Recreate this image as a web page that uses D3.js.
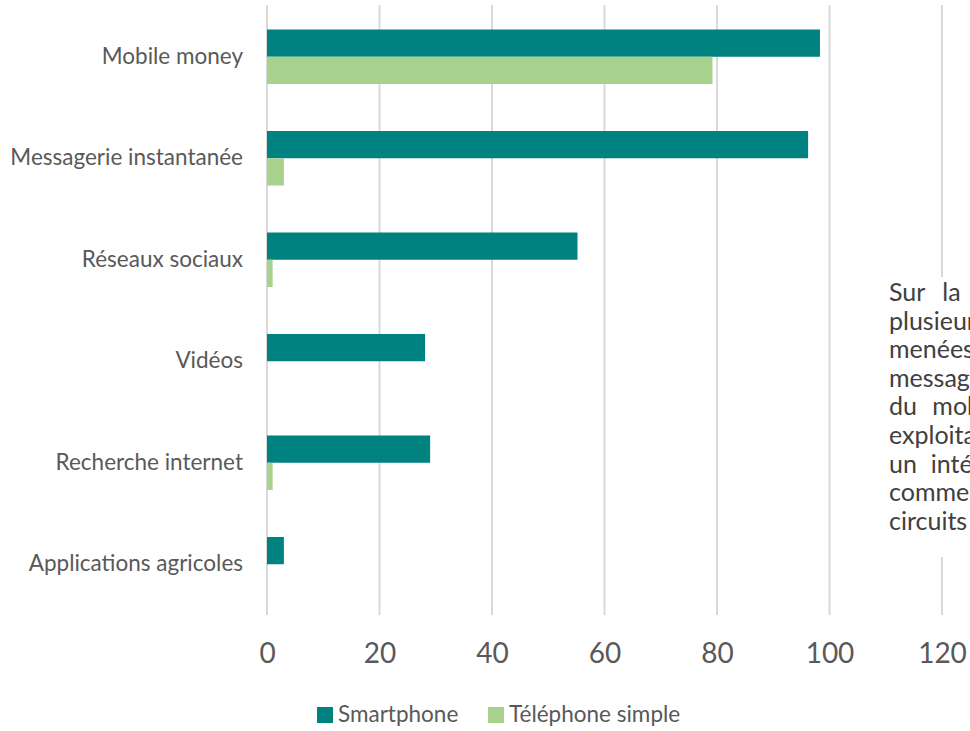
<!DOCTYPE html>
<html>
<head>
<meta charset="utf-8">
<script src="https://cdn.jsdelivr.net/npm/d3@7"></script>
<style>
  html, body { margin: 0; padding: 0; background: #fff; }
  svg { display: block; font-family: Lato, "Open Sans", sans-serif; }
</style>
</head>
<body>
<div id="chart"></div>
<script>
const categories = ['Mobile money', 'Messagerie instantanée', 'Réseaux sociaux', 'Vidéos', 'Recherche internet', 'Applications agricoles'];
const seriesNames = ['Smartphone', 'Téléphone simple'];
const smartphone = [98.3, 96.2, 55.2, 28.1, 29, 3];
const telephoneSimple = [79.2, 3, 1, 0, 1, 0];
const xTicks = [0, 20, 40, 60, 80, 100, 120];
// text of the neighbouring paragraph that overlaps the chart on the right
const sideText = ['Sur la', 'plusieurs', 'menées', 'messagerie', 'du mobile', 'exploitants', 'un intérêt', 'commerce', 'circuits'];
const sideSpacing = [11, 0, 0, 0, 9, 0, 7.5, 0, 0];

const width = 970;
const height = 731;
const colors = ['#008280', '#a9d18e'];
const textColor = '#595959';

const rows = categories.map((c, i) => ({ category: c, values: [smartphone[i], telephoneSimple[i]] }));

const svg = d3.select('#chart')
    .append('svg')
    .attr('width', width)
    .attr('height', height);

const xScale = d3.scaleLinear()
    .domain([0, 120])
    .range([267, 942]);

const yScale = d3.scaleBand()
    .domain(categories)
    .range([6, 615])
    .paddingInner(0.463)
    .paddingOuter(0.2315);

const ySub = d3.scaleBand()
    .domain(seriesNames)
    .range([0, yScale.bandwidth()]);

// gridlines
svg.append('g')
    .selectAll('line')
    .data(xTicks)
    .join('line')
    .attr('x1', d => xScale(d))
    .attr('x2', d => xScale(d))
    .attr('y1', 5)
    .attr('y2', 615)
    .attr('stroke', '#d9d9d9')
    .attr('stroke-width', 2);

// bars
const groups = svg.append('g')
    .selectAll('g')
    .data(rows)
    .join('g')
    .attr('transform', d => `translate(0,${yScale(d.category)})`);

groups.selectAll('rect')
    .data(d => d.values.map((v, j) => ({ series: seriesNames[j], value: v, idx: j })))
    .join('rect')
    .attr('x', xScale(0))
    .attr('y', d => ySub(d.series))
    .attr('width', d => xScale(d.value) - xScale(0))
    .attr('height', ySub.bandwidth())
    .attr('fill', d => colors[d.idx]);

// category labels
const yAxis = d3.axisLeft(yScale).tickSize(0).tickPadding(0);
svg.append('g')
    .attr('transform', 'translate(243,0)')
    .call(yAxis)
    .call(g => g.select('.domain').remove())
    .selectAll('text')
    .attr('fill', textColor)
    .attr('font-size', 22.5)
    .attr('font-family', 'Lato, sans-serif');

// x tick labels
const xAxis = d3.axisBottom(xScale).tickValues(xTicks).tickSize(0).tickPadding(0);
svg.append('g')
    .attr('transform', 'translate(0,643)')
    .call(xAxis)
    .call(g => g.select('.domain').remove())
    .selectAll('text')
    .attr('fill', textColor)
    .attr('font-size', 28)
    .attr('font-family', 'Lato, sans-serif');

// legend
const legendX = [317, 488];
const legend = svg.append('g')
    .selectAll('g')
    .data(seriesNames)
    .join('g')
    .attr('transform', (d, i) => `translate(${legendX[i]},707)`);
legend.append('rect')
    .attr('width', 16)
    .attr('height', 16)
    .attr('fill', (d, i) => colors[i]);
legend.append('text')
    .attr('x', 21)
    .attr('y', 15)
    .attr('fill', textColor)
    .attr('font-size', 22.5)
    .text(d => d);

// overlapping paragraph, it hides the 120 gridline behind it
svg.append('rect')
    .attr('x', 878)
    .attr('y', 277)
    .attr('width', 92)
    .attr('height', 280)
    .attr('fill', '#fff');

svg.append('g')
    .selectAll('text')
    .data(sideText)
    .join('text')
    .attr('x', 889)
    .attr('y', (d, i) => 301 + i * 28.6)
    .attr('fill', '#404040')
    .attr('font-size', 25)
    .attr('word-spacing', (d, i) => sideSpacing[i])
    .text(d => d);
</script>
</body>
</html>
